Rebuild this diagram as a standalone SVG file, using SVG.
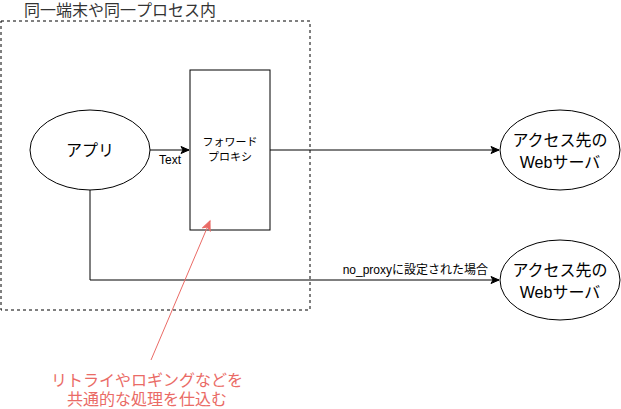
<svg xmlns="http://www.w3.org/2000/svg" width="621" height="409" viewBox="0 0 621 409">
<style>
text{font-family:"Liberation Sans","Noto Sans CJK JP",sans-serif;fill:#000}
.big{font-size:16px}
.sm{font-size:11px}
.lbl{font-size:12px}
.red{fill:#EA6B66}
.shape{fill:#fff;stroke:#000;stroke-width:1}
.edge{fill:none;stroke:#000;stroke-width:1}
</style>
<defs>
<marker id="ah" markerWidth="10" markerHeight="10" refX="9" refY="5" orient="auto" markerUnits="userSpaceOnUse">
<path d="M1,1.5 L9,5 L1,8.5 L3,5 Z" fill="#000" stroke="#000"/>
</marker>
<marker id="ahr" markerWidth="12" markerHeight="12" refX="10" refY="6" orient="auto" markerUnits="userSpaceOnUse">
<path d="M1,2 L10,6 L1,10 L3.5,6 Z" fill="#EA6B66" stroke="#EA6B66"/>
</marker>
</defs>
<rect width="621" height="409" fill="#fff"/>
<g id="container">
<rect x="1" y="21" width="309" height="289" fill="none" stroke="#000" stroke-dasharray="3,3"/>
<text class="big" x="24" y="16" style="fill:#333">同一端末や同一プロセス内</text>
</g>
<g id="app">
<ellipse class="shape" cx="90" cy="150" rx="60" ry="40"/>
<text class="big" x="90" y="156" text-anchor="middle">アプリ</text>
</g>
<g id="proxy">
<rect class="shape" x="190" y="70" width="80" height="160"/>
<text class="sm" x="230" y="146" text-anchor="middle">フォワード</text>
<text class="sm" x="230" y="161" text-anchor="middle">プロキシ</text>
</g>
<g id="web1">
<ellipse class="shape" cx="560" cy="150" rx="60" ry="40"/>
<text class="big" x="560" y="146" text-anchor="middle">アクセス先の</text>
<text class="big" x="560" y="168" text-anchor="middle">Webサーバ</text>
</g>
<g id="web2">
<ellipse class="shape" cx="560" cy="280" rx="60" ry="40"/>
<text class="big" x="560" y="276" text-anchor="middle">アクセス先の</text>
<text class="big" x="560" y="298" text-anchor="middle">Webサーバ</text>
</g>
<g id="note">
<text class="big red" x="147" y="386" text-anchor="middle">リトライやロギングなどを</text>
<text class="big red" x="147" y="405" text-anchor="middle">共通的な処理を仕込む</text>
</g>
<g id="connectors">
<line class="edge" x1="150" y1="150" x2="189" y2="150" marker-end="url(#ah)"/>
<text class="lbl" x="170" y="164" text-anchor="middle">Text</text>
<line class="edge" x1="270" y1="150" x2="499" y2="150" marker-end="url(#ah)"/>
<path class="edge" d="M90,190 L90,280 L499,280" marker-end="url(#ah)"/>
<text class="lbl" x="488" y="274" text-anchor="end">no_proxyに設定された場合</text>
<line x1="151" y1="360" x2="210" y2="221" stroke="#EA6B66" marker-end="url(#ahr)"/>
</g>
</svg>
